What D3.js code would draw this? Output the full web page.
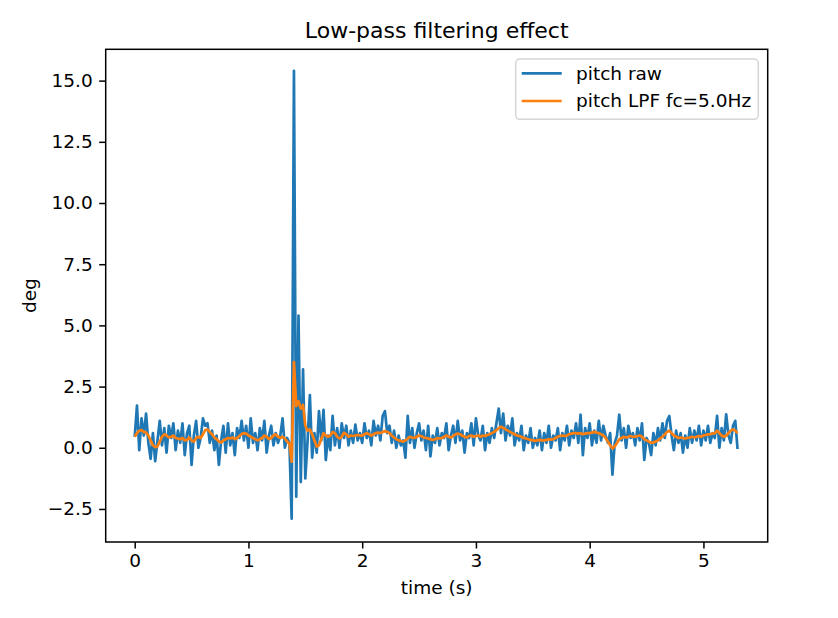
<!DOCTYPE html>
<html>
<head>
<meta charset="utf-8">
<script src="https://cdn.jsdelivr.net/npm/d3@7"></script>
<style>
  body { margin: 0; background: white; }
  text { font-family: "DejaVu Sans", sans-serif; fill: #000; }
</style>
</head>
<body>
<div id="plot"></div>
<script>
// sample step of both series (s)
let dt = 0.02

// pitch raw (deg), one value every dt from t = 0
let pitchRaw = [
  0.45, 1.72, -0.1, 1.2, 0.5, 1.4, 0.2, -0.45, 0.6, -0.55,
  0.3, 1.1, 0.1, 0.8, -0.2, 0.9, 0.4, 1.0, -0.1, 0.7,
  0.2, 1.0, -0.3, 0.6, 0.9, -0.7, 0.5, 1.1, 0.0, 0.4,
  1.2, 0.9, 1.0, 0.2, 0.7, -0.1, 0.5, -0.7, 0.3, 0.9,
  -0.2, 1.0, 0.1, 0.6, -0.3, 0.8, 0.4, 1.1, 0.3, 0.9,
  0.0, 1.2, 0.2, 0.6, -0.1, 0.8, 0.3, 1.1, -0.2, 0.5,
  0.9, 0.1, 0.6, 0.2, 0.5, 1.2, 0.0, 0.4, 0.2, -2.9,
  15.4, -2.0, 5.4, -1.4, 3.2, -1.25, 0.3, 2.15, -0.4, 0.6,
  -0.2, 1.5, 0.3, 1.55, -0.5, 0.5, -0.1, 1.3, 0.1, 0.8,
  0.0, 1.0, 0.4, 0.9, 0.1, 0.7, 0.2, 0.95, 0.3, 0.6,
  0.2, 1.0, 0.4, 0.7, 0.1, 1.1, 0.5, 0.9, 0.3, 1.3,
  1.5, 0.6, 0.9, 0.2, 0.7, 0.0, 0.5, 0.1, 0.3, -0.4,
  1.3, 0.2, 0.8, 0.0, 0.6, 1.0, 0.3, 0.7, -0.1, 0.9,
  -0.35, 0.5, 0.2, 0.8, 0.1, 0.6, 0.4, 1.0, -0.1, 0.5,
  0.9, 0.2, 1.1, 0.3, 0.7, -0.2, 0.6, 0.4, 1.0, 0.1,
  1.2, 0.5, 0.3, 0.9, -0.1, 0.6, 0.2, 0.8, 0.4, 1.0,
  1.6, 0.6, 1.4, 0.3, 0.9, 0.5, 1.2, 0.1, 0.6, 0.3,
  0.9, -0.1, 0.5, 0.2, 0.8, 0.0, 0.4, 0.1, 0.7, -0.1,
  0.6, 0.2, 0.9, 0.0, 0.5, 0.3, 0.8, -0.1, 0.6, 0.3,
  0.9, 0.1, 0.7, 0.4, 1.0, 0.2, 1.35, -0.3, 0.8, 0.4,
  1.0, 0.1, 0.7, 0.2, 1.1, 0.3, 0.9, 0.5, 0.2, 0.6,
  -1.1, 0.2, 0.5, 1.35, 0.3, 0.8, 0.0, 0.9, 0.4, 0.6,
  0.1, 0.8, 0.3, 1.0, -0.5, 0.4, 0.2, -0.3, 0.6, 0.1,
  0.8, 0.3, 1.0, 0.4, 1.1, 1.3, 0.5, -0.1, 0.7, 0.2,
  0.6, -0.2, 0.5, 0.0, 0.8, 0.2, 0.7, 0.3, 0.9, 0.1,
  0.7, 0.3, 0.9, 0.2, 0.6, 0.4, 1.3, 0.0, 0.8, 0.3,
  1.37, 0.5, 0.2, 0.9, 1.1, -0.05
]

// pitch after the 5 Hz low-pass filter (deg)
let pitchLpf = [
  0.45, 0.6, 0.7, 0.72, 0.65, 0.62, 0.5, 0.3, 0.1, 0.02,
  0.05, 0.25, 0.45, 0.55, 0.5, 0.42, 0.45, 0.5, 0.4, 0.38,
  0.35, 0.4, 0.3, 0.32, 0.42, 0.3, 0.25, 0.4, 0.45, 0.4,
  0.55, 0.72, 0.75, 0.65, 0.55, 0.42, 0.35, 0.25, 0.22, 0.3,
  0.35, 0.4, 0.38, 0.42, 0.35, 0.4, 0.48, 0.55, 0.6, 0.58,
  0.5, 0.45, 0.4, 0.35, 0.3, 0.35, 0.4, 0.5, 0.45, 0.35,
  0.4, 0.5, 0.55, 0.45, 0.4, 0.45, 0.38, 0.25, 0.18, -0.57,
  3.5, 1.7, 1.9, 1.6, 1.75, 0.9, 0.7, 0.75, 0.55, 0.3,
  0.05, 0.1, 0.35, 0.6, 0.5, 0.45, 0.5, 0.65, 0.6, 0.45,
  0.38, 0.45, 0.62, 0.55, 0.45, 0.5, 0.48, 0.5, 0.52, 0.5,
  0.5, 0.55, 0.6, 0.55, 0.5, 0.55, 0.6, 0.62, 0.6, 0.65,
  0.68, 0.65, 0.6, 0.5, 0.42, 0.35, 0.3, 0.28, 0.25, 0.3,
  0.38, 0.45, 0.42, 0.4, 0.45, 0.5, 0.48, 0.42, 0.4, 0.38,
  0.35, 0.32, 0.35, 0.4, 0.38, 0.4, 0.45, 0.5, 0.45, 0.42,
  0.48, 0.55, 0.58, 0.55, 0.5, 0.45, 0.42, 0.48, 0.5, 0.45,
  0.48, 0.5, 0.45, 0.5, 0.48, 0.52, 0.55, 0.6, 0.65, 0.72,
  0.8, 0.86, 0.82, 0.75, 0.7, 0.65, 0.6, 0.55, 0.5, 0.48,
  0.45, 0.4, 0.38, 0.35, 0.32, 0.3, 0.28, 0.3, 0.32, 0.3,
  0.3, 0.32, 0.35, 0.33, 0.35, 0.4, 0.45, 0.48, 0.5, 0.48,
  0.5, 0.55, 0.58, 0.6, 0.6, 0.58, 0.6, 0.55, 0.58, 0.6,
  0.6, 0.62, 0.65, 0.62, 0.6, 0.55, 0.5, 0.4, 0.25, 0.1,
  -0.03, 0.05, 0.2, 0.35, 0.4, 0.45, 0.42, 0.45, 0.48, 0.45,
  0.45, 0.48, 0.5, 0.45, 0.35, 0.3, 0.25, 0.2, 0.22, 0.25,
  0.3, 0.38, 0.45, 0.55, 0.65, 0.7, 0.6, 0.5, 0.45, 0.4,
  0.42, 0.4, 0.38, 0.4, 0.42, 0.45, 0.42, 0.45, 0.48, 0.45,
  0.5, 0.52, 0.55, 0.55, 0.58, 0.6, 0.7, 0.6, 0.5, 0.45,
  0.5, 0.6, 0.7, 0.75, 0.7, 0.6
]

let xTicks = [0, 1, 2, 3, 4, 5]
let yTicks = [-2.5, 0, 2.5, 5, 7.5, 10, 12.5, 15]
let seriesNames = ['pitch raw', 'pitch LPF fc=5.0Hz']
let seriesColors = ['#1f77b4', '#ff7f0e']

// axes box in page pixels
let axLeft = 105.7, axRight = 767.7, axTop = 49.3, axBottom = 542

let svg = d3.select('#plot').append('svg')
.attr('width', 838)
.attr('height', 618)

svg.append('rect')
.attr('width', 838)
.attr('height', 618)
.attr('fill', 'white')

let x = d3.scaleLinear().domain([-0.255, 5.565]).range([axLeft, axRight])
let y = d3.scaleLinear().domain([-3.85, 16.28]).range([axBottom, axTop])

let line = d3.line()
.x((d, i) => x(i * dt))
.y(d => y(d))

let series = [pitchRaw, pitchLpf]
for(let k = 0; k < series.length; k++) {
  svg.append('path')
  .datum(series[k])
  .attr('d', line)
  .attr('fill', 'none')
  .attr('stroke', seriesColors[k])
  .attr('stroke-width', 2.7)
  .attr('stroke-linejoin', 'round')
}

// axes
let xAxis = svg.append('g')
.attr('transform', 'translate(0,' + axBottom + ')')
.call(d3.axisBottom(x).tickValues(xTicks).tickFormat(d3.format('d')).tickSize(6.5).tickPadding(5.5))

let yAxis = svg.append('g')
.attr('transform', 'translate(' + axLeft + ',0)')
.call(d3.axisLeft(y).tickValues(yTicks).tickFormat(d3.format('.1f')).tickSize(6.5).tickPadding(6.5))

for(let g of [xAxis, yAxis]) {
  g.select('.domain').remove()
  g.selectAll('line').attr('stroke', '#000').attr('stroke-width', 1.5)
  g.selectAll('text').style('font-size', '18.5px').style('font-family', '"DejaVu Sans", sans-serif').attr('fill', '#000')
}

// spines
svg.append('rect')
.attr('x', axLeft)
.attr('y', axTop)
.attr('width', axRight - axLeft)
.attr('height', axBottom - axTop)
.attr('fill', 'none')
.attr('stroke', '#000')
.attr('stroke-width', 1.5)

svg.append('text')
.attr('x', (axLeft + axRight) / 2)
.attr('y', 38)
.attr('text-anchor', 'middle')
.style('font-size', '22px')
.text('Low-pass filtering effect')

svg.append('text')
.attr('x', (axLeft + axRight) / 2)
.attr('y', 594)
.attr('text-anchor', 'middle')
.style('font-size', '18.5px')
.text('time (s)')

svg.append('text')
.attr('transform', 'translate(36,' + (axTop + axBottom) / 2 + ') rotate(-90)')
.attr('text-anchor', 'middle')
.style('font-size', '18.5px')
.text('deg')

// legend
let legend = svg.append('g')

legend.append('rect')
.attr('x', 515.7)
.attr('y', 59)
.attr('width', 242.6)
.attr('height', 60.3)
.attr('rx', 4)
.attr('fill', 'white')
.attr('fill-opacity', 0.8)
.attr('stroke', '#d6d6d6')
.attr('stroke-width', 1.5)

let rowY = [73.3, 101]
for(let k = 0; k < seriesNames.length; k++) {
  legend.append('line')
  .attr('x1', 521.7)
  .attr('x2', 561.7)
  .attr('y1', rowY[k])
  .attr('y2', rowY[k])
  .attr('stroke', seriesColors[k])
  .attr('stroke-width', 2.7)

  legend.append('text')
  .attr('x', 576)
  .attr('y', rowY[k])
  .attr('dy', '0.35em')
  .style('font-size', '18.5px')
  .text(seriesNames[k])
}
</script>
</body>
</html>
